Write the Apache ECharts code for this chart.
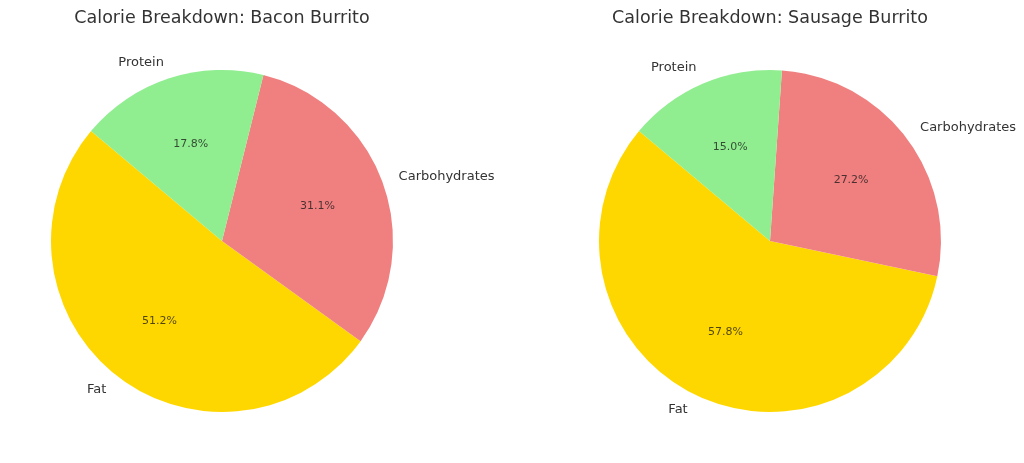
<!DOCTYPE html>
<html>
<head>
<meta charset="utf-8">
<title>Calorie Breakdown</title>
<script src="https://cdn.jsdelivr.net/npm/echarts@6/dist/echarts.min.js"></script>
<style>
  html, body { margin: 0; padding: 0; background: #fff; }
  #chart { width: 1024px; height: 463px; }
</style>
</head>
<body>
<div id="chart"></div>
<script>
// Two matplotlib-style pies: start at 140deg, counter-clockwise,
// labels at 1.1r, percentages at 0.6r.
var categories = ['Fat', 'Carbohydrates', 'Protein'];
var colors = ['#FFD700', '#F08080', '#90EE90'];
var baconValues = [51.2, 31.1, 17.8];
var sausageValues = [57.8, 27.2, 15.0];
var titles = ['Calorie Breakdown: Bacon Burrito', 'Calorie Breakdown: Sausage Burrito'];

var R = 171;
var CENTERS = [[222, 241], [770, 241]];
var FONT = 'DejaVu Sans, sans-serif';

function pieData(values) {
    var out = [];
    for (var i = 0; i < values.length; i++) {
        out.push({ name: categories[i], value: values[i], itemStyle: { color: colors[i] } });
    }
    return out;
}

function mainSeries(values, c) {
    return {
        type: 'pie',
        center: c,
        radius: [0, R],
        startAngle: 140,
        clockwise: false,
        silent: true,
        avoidLabelOverlap: false,
        data: pieData(values),
        label: {
            show: true,
            position: 'outside',
            distanceToLabelLine: 0,
            fontFamily: FONT,
            fontSize: 13,
            color: '#333',
            formatter: '{b}'
        },
        labelLine: { show: false, length: 17, length2: 0 }
    };
}

function pctSeries(values, c) {
    // transparent overlay; its "inside" labels land at about 0.6 * R
    return {
        type: 'pie',
        center: c,
        radius: [0, R * 1.2 - 8],
        startAngle: 140,
        clockwise: false,
        silent: true,
        z: 3,
        data: pieData(values).map(function (d) {
            d.itemStyle = { color: 'rgba(0,0,0,0)' };
            return d;
        }),
        label: {
            show: true,
            position: 'inside',
            fontFamily: FONT,
            fontSize: 11,
            color: 'rgba(20,20,20,0.75)',
            formatter: function (p) { return p.value.toFixed(1) + '%'; }
        },
        labelLine: { show: false }
    };
}

var titleStyle = { fontFamily: FONT, fontSize: 17.5, fontWeight: 'normal', color: '#333' };

var chart = echarts.init(document.getElementById('chart'), null, { renderer: 'canvas' });
chart.setOption({
    animation: false,
    title: [
        { text: titles[0], left: CENTERS[0][0] - 5, top: 4, textAlign: 'center', textStyle: titleStyle },
        { text: titles[1], left: CENTERS[1][0] - 5, top: 4, textAlign: 'center', textStyle: titleStyle }
    ],
    series: [
        mainSeries(baconValues, CENTERS[0]),
        pctSeries(baconValues, CENTERS[0]),
        mainSeries(sausageValues, CENTERS[1]),
        pctSeries(sausageValues, CENTERS[1])
    ]
});
</script>
</body>
</html>
